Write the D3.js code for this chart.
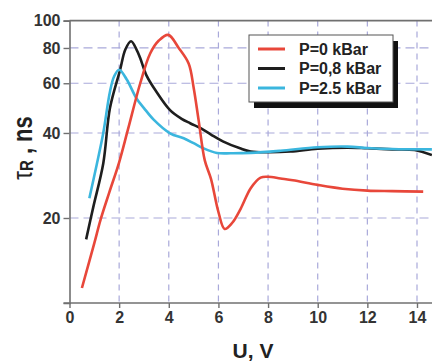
<!DOCTYPE html>
<html>
<head>
<meta charset="utf-8">
<script src="https://cdn.jsdelivr.net/npm/d3@7"></script>
<style>
  body { margin: 0; background: #fff; }
  svg { display: block; font-family: "Liberation Sans", Arial, sans-serif; }
</style>
</head>
<body>
<div id="chart"></div>
<script>
// tau_R versus U for three pressures (log y axis)

var xTicks = [0, 2, 4, 6, 8, 10, 12, 14];
var yTicks = [20, 40, 60, 80, 100];
var seriesNames = ["P=0 kBar", "P=0,8 kBar", "P=2.5 kBar"];
var seriesColors = ["#e8473a", "#1e1e1e", "#3bb6de"];

// P = 0 kBar
var uRed = [0.5, 1.0, 1.25, 1.6, 2.0, 2.35, 2.85, 3.25, 3.6, 3.98, 4.4, 4.8, 5.0, 5.2, 5.45, 5.7, 6.0, 6.25, 6.55, 6.9, 7.3, 7.7, 8.0, 8.5, 9.0, 10.0, 11.0, 12.0, 13.0, 14.25];
var tRed = [11.3, 16.3, 19.7, 24.6, 31.5, 41, 60, 76.5, 85, 89, 80, 70.5, 58, 44.5, 32, 27.5, 21, 18.3, 19.2, 21.6, 25.5, 27.8, 28, 27.6, 27.2, 26.2, 25.4, 25.0, 24.9, 24.8];

// P = 0,8 kBar
var uBlack = [0.67, 0.96, 1.36, 1.63, 2.04, 2.25, 2.48, 2.7, 2.84, 3.1, 3.5, 4.05, 4.5, 4.86, 5.3, 5.7, 6.2, 6.87, 7.3, 8.0, 8.9, 10.0, 11.2, 12.0, 13.0, 13.9, 14.6];
var tBlack = [16.8, 21.9, 31.2, 49, 67, 79, 84.5, 79, 74, 64, 56, 48.2, 45, 43.3, 41.5, 39.5, 37.3, 35.3, 34.4, 34.2, 34.4, 35.2, 35.5, 35.3, 35.0, 34.8, 33.4];

// P = 2.5 kBar
var uCyan = [0.8, 1.1, 1.36, 1.63, 1.8, 2.0, 2.3, 2.7, 3.0, 3.4, 4.05, 4.6, 5.0, 5.4, 5.94, 6.5, 7.3, 8.5, 10.0, 11.2, 12.0, 13.0, 14.6];
var tCyan = [23.5, 31, 40, 56, 63.5, 67, 62, 53, 49, 44.5, 39.9, 38.3, 36.8, 35.3, 34, 33.9, 34.0, 34.6, 35.6, 35.8, 35.4, 35.1, 35.0];

var width = 432, height = 363;

var x = d3.scaleLinear().domain([0, 14]).range([69.5, 417]);
var y = d3.scaleLog().domain([10, 100]).range([303, 20.6]);

var svg = d3.select("#chart").append("svg")
    .attr("width", width)
    .attr("height", height);

// grid
svg.append("g").selectAll("line")
  .data(xTicks.slice(1))
  .enter().append("line")
    .attr("x1", d => x(d)).attr("x2", d => x(d))
    .attr("y1", y(100)).attr("y2", y(10))
    .attr("stroke", "#a9a9da")
    .attr("stroke-width", 1.2)
    .attr("stroke-dasharray", "6,5");

svg.append("g").selectAll("line")
  .data(yTicks.slice(0, -1))
  .enter().append("line")
    .attr("x1", x(0)).attr("x2", width)
    .attr("y1", d => y(d)).attr("y2", d => y(d))
    .attr("stroke", "#a9a9da")
    .attr("stroke-width", 1.2)
    .attr("stroke-dasharray", "9,5");

// axes
var xAxis = svg.append("g")
    .attr("transform", "translate(0," + y(10) + ")")
    .call(d3.axisBottom(x).tickValues(xTicks).tickSize(5).tickPadding(4));
xAxis.select(".domain").attr("d", "M" + (x(0) - 6) + ",0H" + width);

var yAxis = svg.append("g")
    .attr("transform", "translate(" + x(0) + ",0)")
    .call(d3.axisLeft(y).tickValues(yTicks).tickFormat(d3.format("d")).tickSize(6).tickPadding(3));

svg.selectAll(".domain").attr("stroke", "#707070").attr("stroke-width", 1.6);
svg.selectAll(".tick line").attr("stroke", "#707070").attr("stroke-width", 1.4);
svg.selectAll(".tick text")
    .attr("fill", "#333")
    .style("font-size", "16px")
    .style("font-weight", "bold")
    .style("font-family", "'Liberation Sans', Arial, sans-serif");

// top frame line
svg.append("line")
    .attr("x1", x(0)).attr("x2", width)
    .attr("y1", y(100)).attr("y2", y(100))
    .attr("stroke", "#707070")
    .attr("stroke-width", 1.6);

// curves
var line = d3.line()
    .x(d => x(d[0]))
    .y(d => y(d[1]))
    .curve(d3.curveCatmullRom.alpha(0.5));

var series = [
  {u: uBlack, t: tBlack, color: seriesColors[1]},
  {u: uCyan, t: tCyan, color: seriesColors[2]},
  {u: uRed, t: tRed, color: seriesColors[0]}
];

series.forEach(function(s) {
  svg.append("path")
    .datum(s.u.map((u, i) => [u, s.t[i]]))
    .attr("fill", "none")
    .attr("stroke", s.color)
    .attr("stroke-width", 2.6)
    .attr("stroke-linejoin", "round")
    .attr("d", line);
});

// legend
var lg = svg.append("g").attr("transform", "translate(249,35)");
lg.append("rect")
    .attr("x", 5).attr("y", 6)
    .attr("width", 144).attr("height", 67)
    .attr("fill", "#111");
lg.append("rect")
    .attr("width", 144).attr("height", 67)
    .attr("fill", "#fff")
    .attr("stroke", "#555")
    .attr("stroke-width", 1);

seriesNames.forEach(function(name, i) {
  var yy = 14 + i * 19.5;
  lg.append("line")
    .attr("x1", 9).attr("x2", 36)
    .attr("y1", yy).attr("y2", yy)
    .attr("stroke", seriesColors[i])
    .attr("stroke-width", 3);
  lg.append("text")
    .attr("x", 50).attr("y", yy)
    .attr("dy", "0.36em")
    .attr("fill", "#222")
    .style("font-size", "16px")
    .style("font-weight", "bold")
    .text(name);
});

// axis titles
svg.append("text")
    .attr("x", 253).attr("y", 358)
    .style("text-anchor", "middle")
    .style("font-size", "21px")
    .style("font-weight", "bold")
    .attr("fill", "#222")
    .text("U, V");

var yt = svg.append("text")
    .attr("transform", "translate(32,148) rotate(-90) scale(1,1.25)")
    .style("text-anchor", "middle")
    .style("font-weight", "bold")
    .attr("fill", "#222");
yt.append("tspan").style("font-size", "22px").style("font-weight", "normal").text("τ");
yt.append("tspan").style("font-size", "15px").attr("dy", 1).text("R");
yt.append("tspan").style("font-size", "22px").attr("dy", -1).text(" , ns");
</script>
</body>
</html>
